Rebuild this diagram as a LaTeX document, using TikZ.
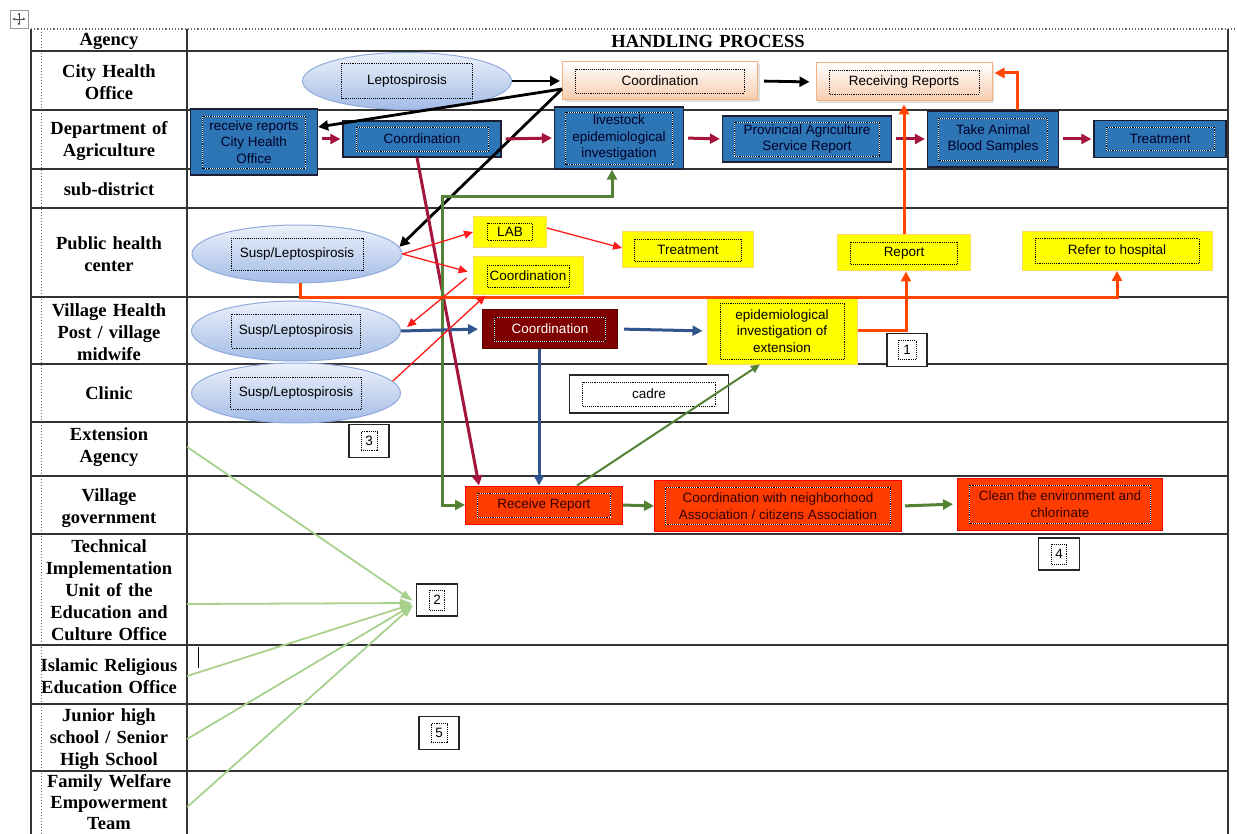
\documentclass[tikz,border=0pt]{standalone}
\usepackage{fontspec}
\setmainfont{Liberation Serif}
\newfontfamily\boxfont{Liberation Sans}
\usetikzlibrary{arrows.meta,shapes.geometric,shadows}

\definecolor{ellline}{RGB}{143,170,220}
\definecolor{elltop}{RGB}{236,241,250}
\definecolor{ellbot}{RGB}{163,188,230}
\definecolor{peachline}{RGB}{244,177,131}
\definecolor{peach}{RGB}{248,203,173}
\definecolor{agblue}{RGB}{46,117,182}
\definecolor{agline}{RGB}{30,30,50}
\definecolor{hiyellow}{RGB}{255,255,0}
\definecolor{yline}{RGB}{255,217,102}
\definecolor{darkmaroon}{RGB}{128,0,0}
\definecolor{redfill}{RGB}{255,60,0}
\definecolor{crimson}{RGB}{165,20,60}
\definecolor{leaf}{RGB}{84,130,53}
\definecolor{paleleaf}{RGB}{169,209,142}
\definecolor{steel}{RGB}{47,85,140}
\definecolor{flame}{RGB}{255,69,0}

\newcommand\procfont{\boxfont\fontsize{13.5}{16.5}\selectfont}
\newcommand\labfont{\bfseries\fontsize{18.5}{22}\selectfont}

\tikzset{
  tabline/.style={draw=black!80, line width=1.3pt},
  agency/.style={font=\labfont, align=center, text width=156pt, inner sep=0pt},
  sz/.style 2 args={minimum width=#1pt, minimum height=#2pt},
  dotpen/.style={black, densely dotted, line width=0.9pt},
  dotin/.style 2 args={path picture={
      \draw[dotpen] ([xshift=#1pt,yshift=-#2pt]path picture bounding box.north west)
        rectangle ([xshift=-#1pt,yshift=#2pt]path picture bounding box.south east);}},
  dotinw/.style 2 args={path picture={
      \draw[white, line width=0.9pt] ([xshift=#1pt,yshift=-#2pt]path picture bounding box.north west)
        rectangle ([xshift=-#1pt,yshift=#2pt]path picture bounding box.south east);
      \draw[dotpen] ([xshift=#1pt,yshift=-#2pt]path picture bounding box.north west)
        rectangle ([xshift=-#1pt,yshift=#2pt]path picture bounding box.south east);}},
  proc/.style={rectangle, font=\procfont, align=center, inner sep=0pt, line width=1pt},
  lepto/.style={proc, ellipse, draw=ellline, top color=elltop, bottom color=ellbot},
  city/.style={proc, draw=peachline, top color=white, bottom color=peach,
    drop shadow={shadow xshift=2pt, shadow yshift=-2pt, opacity=0.25}},
  agri/.style={proc, draw=agline, fill=agblue, text=black!85!blue, line width=1.2pt},
  yel/.style={proc, draw=yline, fill=hiyellow},
  maroonbox/.style={proc, draw=darkmaroon!70!black, fill=darkmaroon, text=white},
  vill/.style={proc, draw=red, fill=redfill, text=black!80!red},
  plain/.style={proc, draw=black!85, fill=white, line width=1.2pt},
  tip/.style={-{Triangle[length=10pt,width=10pt]}},
  blk/.style={draw=black, line width=2.8pt, tip},
  crim/.style={draw=crimson, line width=3pt, tip, shorten <=4pt, shorten >=2pt},
  grn/.style={draw=leaf, line width=3pt, tip},
  grnthin/.style={draw=leaf, line width=2pt, -{Triangle[length=9pt,width=8pt]}},
  stl/.style={draw=steel, line width=3pt, tip},
  flm/.style={draw=flame, line width=3pt, tip},
  redl/.style={draw=red!90!white, line width=1.3pt, -{Triangle[length=9pt,width=8pt]}},
  lgrn/.style={draw=paleleaf, line width=1.8pt, -{Triangle[length=12pt,width=8pt]}},
}

\begin{document}
\begin{tikzpicture}[x=1pt, y=-1pt]
  \useasboundingbox (0,0) rectangle (1237,834);

  % table frame
  \draw[tabline] (31,29) -- (31,834);
  \draw[tabline] (187,29) -- (187,834);
  \draw[tabline] (1228,29) -- (1228,834);
  \draw[black!60, dotted, line width=1pt] (41,29) -- (41,834);
  \draw[black!60, dotted, line width=1.2pt] (31,29) -- (1237,29);
  \foreach \y in {51,110,169,208,297,364,422,476,534,645,704,771}
    \draw[tabline] (31,\y) -- (1228,\y);

  % move handle and cursor
  \draw[black!40, fill=white, line width=0.8pt] (10,10) rectangle (28,28);
  \draw[black!70, line width=0.7pt, {Latex[length=2.5pt,width=3pt]}-{Latex[length=2.5pt,width=3pt]}] (12.5,19) -- (25.5,19);
  \draw[black!70, line width=0.7pt, {Latex[length=2.5pt,width=3pt]}-{Latex[length=2.5pt,width=3pt]}] (19,12.5) -- (19,25.5);
  \draw[line width=1pt] (198,647) -- (198,668);

  % headings and agencies
  \node[agency] (hdA) at (109,41) {Agency};
  \node[agency, text width=400pt] (hdP) at (708,41) {HANDLING PROCESS};
  \node[agency] (cho)   at (109, 82) {City Health\\Office};
  \node[agency] (doa)   at (109,141) {Department of\\Agriculture};
  \node[agency] (subd)  at (109,189) {sub-district};
  \node[agency] (phc)   at (109,254) {Public health\\center};
  \node[agency] (vhp)   at (109,332) {Village Health\\Post / village\\midwife};
  \node[agency] (clin)  at (109,393) {Clinic};
  \node[agency] (ext)   at (109,447) {Extension\\Agency};
  \node[agency] (vgov)  at (109,508) {Village\\government};
  \node[agency] (tech)  at (109,590) {Technical\\Implementation\\Unit of the\\Education and\\Culture Office};
  \node[agency] (islam) at (109,676) {Islamic Religious\\Education Office};
  \node[agency] (jhs)   at (109,739) {Junior high\\school / Senior\\High School};
  \node[agency, font=\bfseries\fontsize{18.5}{21}\selectfont] (fwet) at (109,802) {Family Welfare\\Empowerment\\Team};

  % process boxes
  \node[lepto, dotin={39}{11}, sz={209}{57}] (lepC) at (407,81) {Leptospirosis};
  \node[city, dotin={13}{7}, sz={195}{38}] (coordC) at (660,81) {Coordination};
  \node[city, dotin={13}{7}, sz={176}{38}] (recvC) at (904,82) {Receiving Reports};

  \node[agri, dotinw={12}{7}, sz={127}{66}] (recvA) at (254,142) {receive reports\\City Health\\Office};
  \node[agri, dotinw={13}{6}, sz={158}{36}] (coordA) at (422,139) {Coordination};
  \node[agri, dotinw={11}{5}, sz={129}{62}] (livest) at (619,138) {livestock\\epidemiological\\investigation};
  \node[agri, dotinw={12}{6}, sz={169}{46}] (prov) at (807,139) {Provincial Agriculture\\Service Report};
  \node[agri, dotinw={11}{7}, sz={131}{56}] (blood) at (993,139) {Take Animal\\Blood Samples};
  \node[agri, dotinw={12}{7}, sz={132}{37}] (treatA) at (1160,139) {Treatment};

  \node[lepto, dotin={39}{13}, sz={210}{58}] (suspP) at (297,254) {Susp/Leptospirosis};
  \node[yel, dotin={14}{7}, sz={73}{31}] (lab) at (510,232) {LAB};
  \node[yel, dotin={14}{8}, sz={110}{38}] (coordY) at (528,276) {Coordination};
  \node[yel, dotin={12}{7}, sz={131}{36}] (treatY) at (688,250) {Treatment};
  \node[yel, dotin={13}{7}, sz={133}{36}] (report) at (904,253) {Report};
  \node[yel, dotin={13}{7}, sz={190}{39}] (refer) at (1117,251) {Refer to hospital};

  \node[lepto, dotin={40}{13}, sz={209}{60}] (suspV) at (296,331) {Susp/Leptospirosis};
  \node[maroonbox, dotinw={12}{7}, sz={135}{38}] (coordV) at (550,329) {Coordination};
  \node[yel, dotin={13}{5}, sz={150}{66}] (epid) at (782,331) {epidemiological\\investigation of\\extension};

  \node[lepto, dotin={39}{14}, sz={209}{60}] (suspK) at (296,393) {Susp/Leptospirosis};
  \node[plain, dotin={13}{7}, sz={159}{38}] (cadre) at (649,394) {cadre};

  \node[vill, dotinw={12}{7}, sz={157}{38}] (recvR) at (544,505) {Receive Report};
  \node[vill, dotinw={11}{7}, sz={247}{51}] (coordN) at (778,506) {Coordination with neighborhood\\Association / citizens Association};
  \node[vill, dotinw={12}{7}, sz={205}{52}] (clean) at (1060,504) {Clean the environment and\\chlorinate};

  \node[plain, dotin={11}{7}, sz={40}{33}] (num1) at (907,350) {1};
  \node[plain, dotin={13}{6}, sz={41}{32}] (num2) at (437,600) {2};
  \node[plain, dotin={12}{7}, sz={40}{33}] (num3) at (369,441) {3};
  \node[plain, dotin={13}{6}, sz={41}{32}] (num4) at (1059,554) {4};
  \node[plain, dotin={12}{7}, sz={40}{33}] (num5) at (439,733) {5};

  % city health office
  \draw[blk, shorten >=2pt] (lepC.east) -- (coordC.west);
  \draw[blk, shorten <=6pt, shorten >=6pt] (coordC.east) -- (recvC.west);
  \draw[blk] ([yshift=-8pt]coordC.west) -- ([yshift=15pt]recvA.east);
  \draw[blk] ([yshift=-8pt]coordC.west) -- (suspP.4);

  % agriculture chain
  \draw[crim] (recvA.east |- coordA.west) -- (coordA.west);
  \draw[crim] (coordA.east) -- (livest.west);
  \draw[crim] (livest.east) -- (prov.west);
  \draw[crim] (prov.east) -- (blood.west);
  \draw[crim] (blood.east) -- (treatA.west);
  \draw[crim, shorten <=0pt, shorten >=0pt] ([xshift=-5pt]coordA.south) -- ([xshift=-65pt]recvR.north);

  % village government chain
  \coordinate (gturn) at (442,197);
  \draw[grn, {Triangle[length=10pt,width=10pt]}-{Triangle[length=10pt,width=10pt]}]
    (recvR.west) -| (gturn) -| ([xshift=-7pt]livest.south);
  \draw[grnthin] ([xshift=33pt]recvR.north) -- ([xshift=-22pt]epid.south);
  \draw[grn] (recvR.east) -- (coordN.west);
  \draw[grn, shorten <=3pt, shorten >=4pt] (coordN.east) -- (clean.west);

  % village health post
  \draw[stl, shorten >=4pt] (suspV.east) -- (coordV.west);
  \draw[stl, shorten <=6pt, shorten >=4pt] (coordV.east) -- (epid.west);
  \draw[stl] ([xshift=-11pt]coordV.south) -- ([xshift=-5pt]recvR.north);

  % reports upward
  \draw[flm] ([xshift=3pt]suspP.south) -- ++(0,14) -| (refer.south);
  \draw[flm] (epid.east) -| ([xshift=2pt]report.south);
  \draw[flm, shorten >=3pt] (report.north) -- (recvC.south);
  \draw[flm, shorten >=2pt] ([xshift=24pt]blood.north) |- ([yshift=9pt]recvC.east);

  % public health center
  \draw[redl] (suspP.east) -- (lab.west);
  \draw[redl, shorten >=5pt] (suspP.east) -- ([yshift=3pt]coordY.west);
  \draw[redl] ([yshift=4pt]lab.east) -- ([yshift=2pt]treatY.west);
  \draw[redl] ([xshift=-6pt,yshift=-2pt]coordY.west) -- ([xshift=6pt,yshift=4pt]suspV.east);
  \draw[redl] (suspK.7) -- ([xshift=13pt]coordY.south west);

  % other agencies
  \foreach \src/\dy in {ext/0, tech/-14, islam/0, jhs/0, fwet/-5}
    \draw[lgrn, shorten >=4pt] ([yshift=\dy pt]\src.east) -- ([yshift=-3pt]num2.west);
\end{tikzpicture}
\end{document}
